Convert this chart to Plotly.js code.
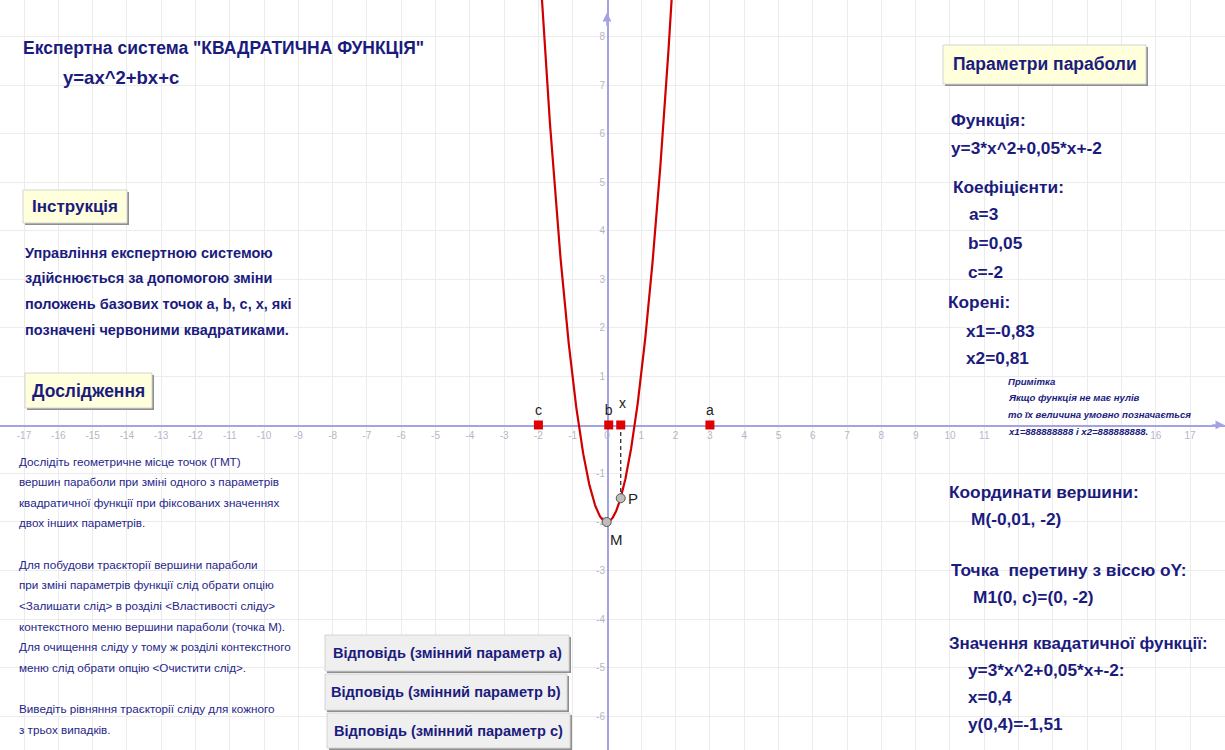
<!DOCTYPE html>
<html><head><meta charset="utf-8">
<script src="https://cdn.plot.ly/plotly-3.0.1.min.js"></script>
<style>html,body{margin:0;padding:0;background:#fff}#chart{width:1225px;height:750px}</style>
</head><body><div id="chart"></div>
<script>
// ---- data ----
const coefA = 3, coefB = 0.05, coefC = -2;
const baseNames = ['c', 'b', 'a'];
const baseX = [-2, 0.05, 3];
const pointX = [0.4];
const pointName = ['x'];
const P = {x: [0.4], y: [-1.51]};
const M = {x: [-0.01], y: [-2]};
const xTicks = [-17,-16,-15,-14,-13,-12,-11,-10,-9,-8,-7,-6,-5,-4,-3,-2,-1,0,1,2,3,4,5,6,7,8,9,10,11,12,13,14,15,16,17];
// labels 12..15 are hidden under the note text in the original
const xTickText = ['-17','-16','-15','-14','-13','-12','-11','-10','-9','-8','-7','-6','-5','-4','-3','-2','-1','0','1','2','3','4','5','6','7','8','9','10','11','','','','','16','17'];
const yTicks = [-6,-5,-4,-3,-2,-1,1,2,3,4,5,6,7,8];
const xRange = [-17.7, 18.02];
const yRange = [-6.70, 8.76];

const W = 1225, H = 750;
const NAVY = '#1b1b7e';
const FONT = '"Liberation Sans", Arial, sans-serif';
const AXC = '#a3a3e3';

// parabola from coefficients
const px = [], py = [];
for (let i = -200; i <= 200; i++) { const x = i / 100; px.push(x); py.push(coefA*x*x + coefB*x + coefC); }

const traces = [
  {x: px, y: py, mode: 'lines', line: {color: '#d10000', width: 2.2}, hoverinfo: 'skip'},
  {x: [P.x[0], P.x[0]], y: [0, P.y[0]], mode: 'lines', line: {color: '#222', width: 1.2, dash: '4px,3px'}, hoverinfo: 'skip'},
  {x: baseX, y: baseX.map(() => 0), mode: 'markers+text', text: baseNames, textposition: 'top center',
   textfont: {family: 'Liberation Sans, Arial', size: 14, color: '#222'},
   marker: {symbol: 'square', size: 9, color: '#e00000'}},
  {x: pointX, y: [0], mode: 'markers', marker: {symbol: 'square', size: 9, color: '#e00000'}},
  {x: P.x, y: P.y, mode: 'markers', marker: {size: 9, color: '#bdbdbd', line: {color: '#555', width: 1}}},
  {x: M.x, y: M.y, mode: 'markers', marker: {size: 9, color: '#bdbdbd', line: {color: '#555', width: 1}}}
];

const fx = v => v / W, fy = v => 1 - v / H;
const annotations = [];
const shapes = [];
function txt(t, x, y, size, opts) {
  opts = opts || {};
  annotations.push({xref: 'paper', yref: 'paper', x: fx(x), y: fy(y), xanchor: opts.anchor || 'left', yanchor: 'middle',
    text: t, showarrow: false, align: 'left',
    font: {family: FONT, size: size, color: opts.color || NAVY, weight: opts.weight || 'bold', style: opts.style || 'normal'}});
}
function button(t, x0, y0, x1, y1, size, bg) {
  shapes.push({type: 'rect', xref: 'paper', yref: 'paper', x0: fx(x0 + 2), x1: fx(x1 + 2), y0: fy(y0 + 2), y1: fy(y1 + 2),
    fillcolor: '#8f8f8f', line: {width: 0}, layer: 'above'});
  shapes.push({type: 'rect', xref: 'paper', yref: 'paper', x0: fx(x0), x1: fx(x1), y0: fy(y0), y1: fy(y1),
    fillcolor: bg, line: {color: '#d4d4d4', width: 1}, layer: 'above'});
  txt(t, (x0 + x1) / 2, (y0 + y1) / 2, size, {anchor: 'center'});
}

// arrowheads at the axis ends
annotations.push({xref: 'x', yref: 'y', axref: 'x', ayref: 'y', x: 18.0, y: 0, ax: 17.6, ay: 0, showarrow: true,
  arrowhead: 2, arrowsize: 1.1, arrowwidth: 1.6, arrowcolor: AXC, text: ''});
annotations.push({xref: 'x', yref: 'y', axref: 'x', ayref: 'y', x: 0, y: 8.5, ax: 0, ay: 8.2, showarrow: true,
  arrowhead: 2, arrowsize: 1.1, arrowwidth: 1.6, arrowcolor: AXC, text: ''});

// point labels
annotations.push({xref: 'x', yref: 'y', x: pointX[0], y: 0, text: pointName[0], showarrow: false, xshift: 2, yshift: 22,
  font: {family: 'Liberation Sans, Arial', size: 14, color: '#222'}});
annotations.push({xref: 'x', yref: 'y', x: P.x[0], y: P.y[0], text: 'P', showarrow: false, xshift: 12, yshift: 0,
  font: {family: 'Liberation Sans, Arial', size: 15, color: '#222'}});
annotations.push({xref: 'x', yref: 'y', x: M.x[0], y: M.y[0], text: 'M', showarrow: false, xshift: 10, yshift: -18,
  font: {family: 'Liberation Sans, Arial', size: 15, color: '#222'}});

// title block
txt('Експертна система "КВАДРАТИЧНА ФУНКЦІЯ"', 21, 48, 17.5);
txt('y=ax^2+bx+c', 61, 77, 18.5);

button('Інструкція', 23, 190, 127, 223, 17, '#ffffdc');
txt('Управління експертною системою', 23, 253, 14.5);
txt('здійснюється за допомогою зміни', 23, 278, 14.5);
txt('положень базових точок a, b, c, x, які', 23, 304, 14.5);
txt('позначені червоними квадратиками.', 23, 330, 14.5);
button('Дослідження', 25, 373, 152, 408, 17.5, '#ffffdc');

const leftLines = [
  'Дослідіть геометричне місце точок (ГМТ)',
  'вершин параболи при зміні одного з параметрів',
  'квадратичної функції при фіксованих значеннях',
  'двох інших параметрів.',
  '',
  'Для побудови траєкторії вершини параболи',
  'при зміні параметрів функції слід обрати опцію',
  '&lt;Залишати слід&gt; в розділі &lt;Властивості сліду&gt;',
  'контекстного меню вершини параболи (точка М).',
  'Для очищення сліду у тому ж розділі контекстного',
  'меню слід обрати опцію &lt;Очистити слід&gt;.',
  '',
  'Виведіть рівняння траєкторії сліду для кожного',
  'з трьох випадків.'
];
leftLines.forEach((l, i) => { if (l) txt(l, 17, 461 + 20.65 * i, 11.7, {weight: 'normal', color: '#26268a'}); });

button('Відповідь (змінний параметр a)', 325, 635, 569, 671, 14.6, '#efefef');
button('Відповідь (змінний параметр b)', 325, 674, 567, 710, 14.6, '#efefef');
button('Відповідь (змінний параметр c)', 327, 713, 570, 748, 14.6, '#efefef');

// right panel
const RS = 17.3;
button('Параметри параболи', 943, 45, 1146, 84, 17.5, '#ffffdc');
txt('Функція:', 949, 120, RS);
txt('y=3*x^2+0,05*x+-2', 949, 148, RS);
txt('Коефіцієнти:', 951, 187, RS);
txt('a=3', 967, 214, RS);
txt('b=0,05', 966, 243, RS);
txt('c=-2', 966, 272, RS);
txt('Корені:', 946, 302, RS);
txt('x1=-0,83', 964, 331, RS);
txt('x2=0,81', 964, 358, RS);

const NS = 9.6;
txt('Примітка', 1006, 381, NS, {style: 'italic'});
txt('Якщо функція не має нулів', 1006, 397, NS, {style: 'italic'});
txt('то їх величина умовно позначається', 1006, 414, NS, {style: 'italic'});
txt('x1=888888888 і x2=888888888.', 1006, 431, NS, {style: 'italic'});

txt('Координати вершини:', 947, 492, RS);
txt('M(-0,01, -2)', 969, 519, RS);
txt('Точка  перетину з віссю оY:', 949, 570, RS);
txt('M1(0, c)=(0, -2)', 971, 597, RS);
txt('Значення квадатичної функції:', 947, 643, 16.9);
txt('y=3*x^2+0,05*x+-2:', 966, 670, RS);
txt('x=0,4', 966, 697, RS);
txt('y(0,4)=-1,51', 966, 724, RS);

const layout = {
  width: W, height: H, margin: {l: 0, r: 0, t: 0, b: 0},
  paper_bgcolor: '#fff', plot_bgcolor: '#fff', showlegend: false,
  xaxis: {range: xRange, anchor: 'free', position: (0 - yRange[0]) / (yRange[1] - yRange[0]),
    tickvals: xTicks, ticktext: xTickText, showgrid: true, gridcolor: '#ececec', gridwidth: 1,
    zeroline: false, showline: true, linecolor: AXC, linewidth: 1.6, layer: 'below traces',
    ticks: '', tickfont: {family: 'Liberation Sans, Arial', size: 10, color: '#b6b6c8'}, fixedrange: true},
  yaxis: {range: yRange, anchor: 'free', position: (0 - xRange[0]) / (xRange[1] - xRange[0]),
    tickvals: yTicks, ticktext: yTicks.map(String), showgrid: true, gridcolor: '#ececec', gridwidth: 1,
    zeroline: false, showline: true, linecolor: AXC, linewidth: 1.6, layer: 'below traces',
    ticks: '', tickfont: {family: 'Liberation Sans, Arial', size: 10, color: '#b6b6c8'}, fixedrange: true},
  annotations: annotations, shapes: shapes
};
Plotly.newPlot('chart', traces, layout, {displayModeBar: false, staticPlot: true});
</script></body></html>
